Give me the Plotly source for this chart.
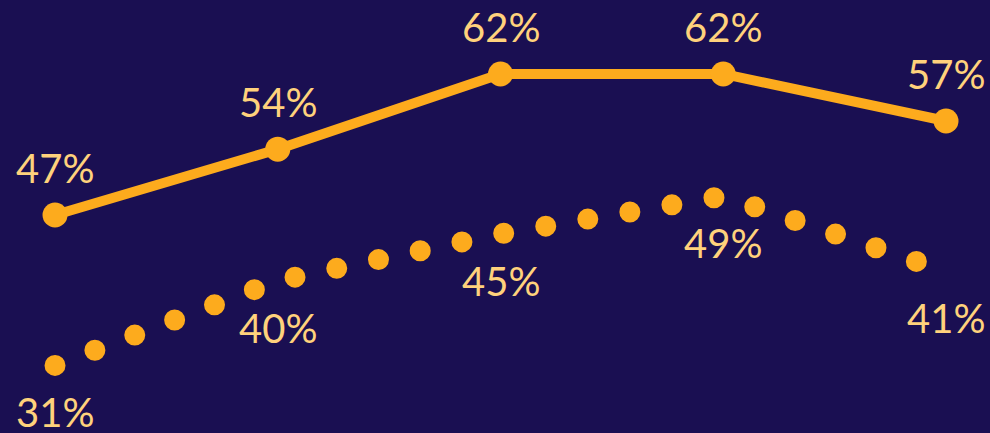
import plotly.graph_objects as go

categories = ["A", "B", "C", "D", "E"]
solid_values = [47, 54, 62, 62, 57]
dotted_values = [31, 40, 45, 49, 41]
x_idx = list(range(len(categories)))

BG = "#1a0f52"
ORANGE = "#fdab1d"
LABEL = "#ffd27c"
FONT = "Lato"

fig = go.Figure()

fig.add_trace(go.Scatter(
    x=x_idx, y=dotted_values, mode="lines",
    line=dict(color=ORANGE, width=21, dash="0px,42.65px"),
    hoverinfo="skip", cliponaxis=False,
))
fig.add_trace(go.Scatter(
    x=x_idx, y=solid_values, mode="lines+markers",
    line=dict(color=ORANGE, width=10),
    marker=dict(color=ORANGE, size=25),
    hoverinfo="skip", cliponaxis=False,
))

annotations = []
for xi, v in zip(x_idx, solid_values):
    annotations.append(dict(x=xi, y=v, text=f"{v}%", showarrow=False,
                            yanchor="middle", xanchor="center", yshift=47,
                            font=dict(size=40, color=LABEL, family=FONT)))
for xi, v in zip(x_idx, dotted_values):
    annotations.append(dict(x=xi, y=v, text=f"{v}%", showarrow=False,
                            yanchor="middle", xanchor="center", yshift=-47,
                            font=dict(size=40, color=LABEL, family=FONT)))

fig.update_layout(
    width=990, height=433,
    margin=dict(l=0, r=0, t=0, b=0),
    paper_bgcolor=BG, plot_bgcolor=BG,
    showlegend=False,
    xaxis=dict(range=[-0.247, 4.1975], visible=False, fixedrange=True),
    yaxis=dict(range=[23.81, 69.87], visible=False, fixedrange=True),
    annotations=annotations,
)

post = """
var s = document.createElement('style');
s.innerHTML = 'html, body { margin: 0; padding: 0; background: #1a0f52; overflow: hidden; } '
  + '.js-plotly-plot .scatterlayer path.js-line { stroke-linecap: round !important; }';
document.head.appendChild(s);
"""
fig.write_html("out.html", post_script=post, config={"displayModeBar": False})
